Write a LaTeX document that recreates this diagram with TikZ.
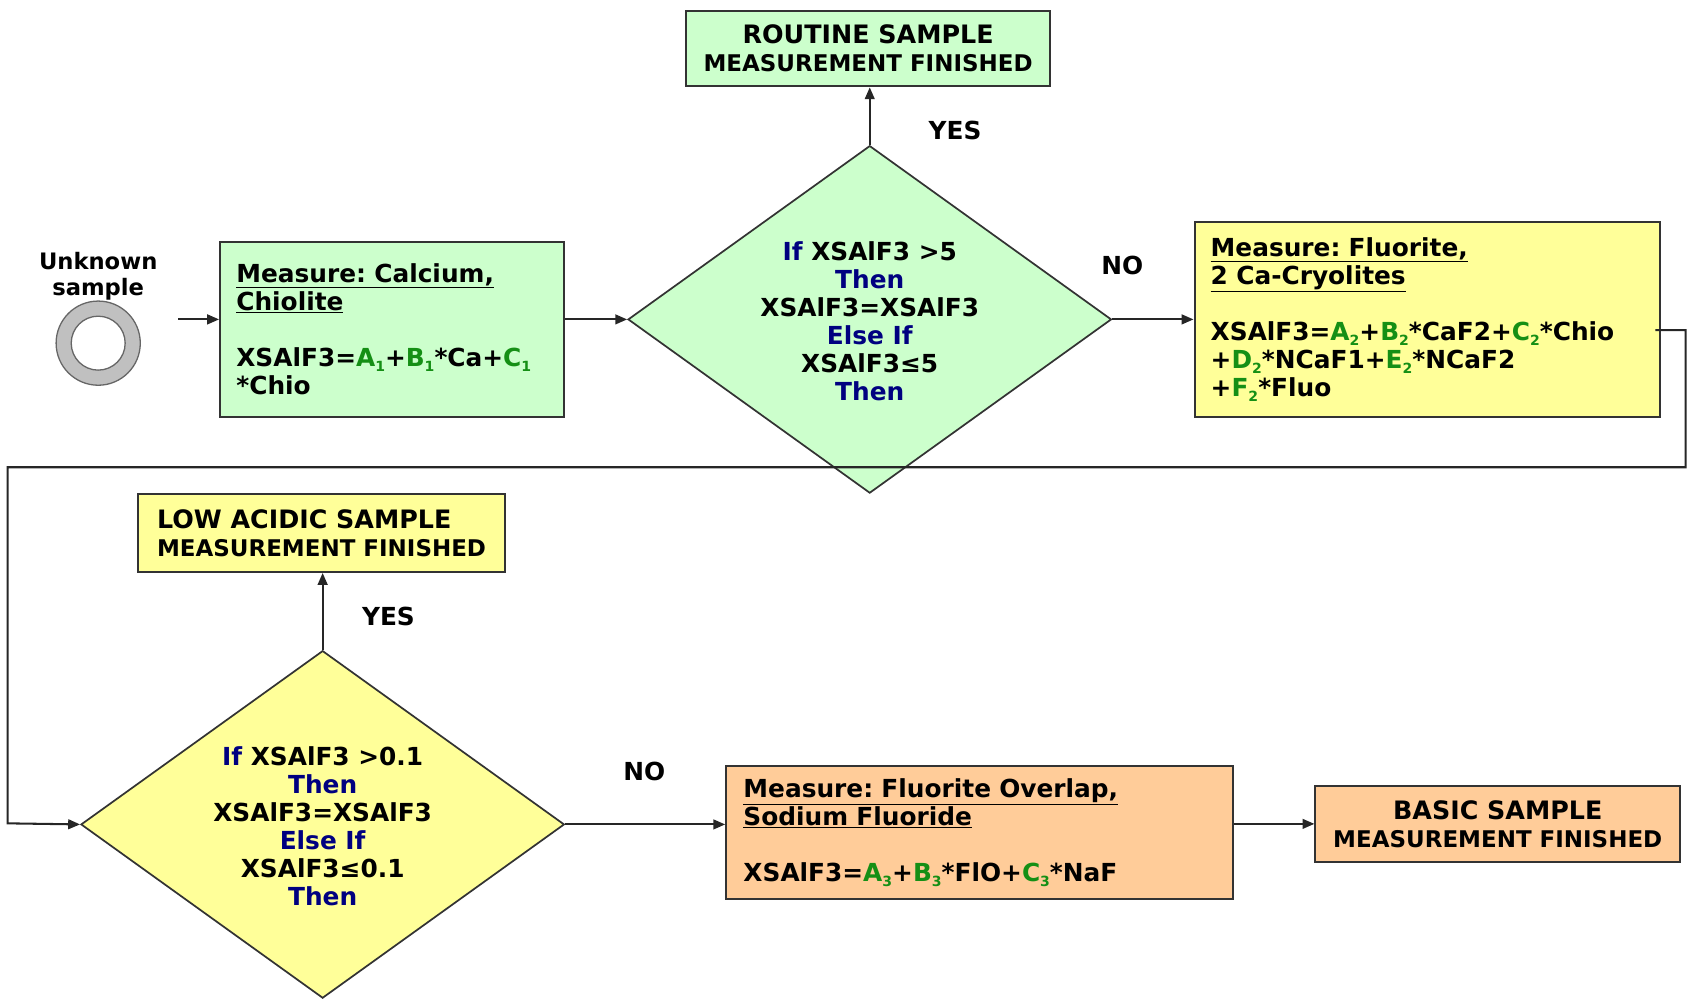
\documentclass[tikz,border=0pt]{standalone}
\usepackage{fontspec}
\setmainfont{DejaVu Sans}
\usetikzlibrary{shapes.geometric,arrows.meta}
\definecolor{gfill}{HTML}{CCFFCC}
\definecolor{yfill}{HTML}{FFFF99}
\definecolor{ofill}{HTML}{FFCC99}
\definecolor{edgec}{HTML}{333333}
\definecolor{cgreen}{HTML}{158F15}
\definecolor{cnavy}{HTML}{000080}
\definecolor{ringc}{HTML}{C0C0C0}
\newcommand\coef[2]{\textcolor{cgreen}{#1\raisebox{-0.35ex}{\fontsize{13}{13}\selectfont #2}}}
\newcommand\kw[1]{\textcolor{cnavy}{#1}}
\frenchspacing
\begin{document}
\begin{tikzpicture}[x=1pt,y=-1pt,
  font=\bfseries\fontsize{23}{26}\selectfont,
  procbox/.style={draw=edgec, line width=1.9pt, rectangle, inner xsep=15pt, inner ysep=0pt, align=left},
  endbox/.style={draw=edgec, line width=1.9pt, rectangle, inner sep=0pt},
  decide/.style={draw=edgec, line width=1.6pt, diamond, inner sep=0pt, minimum width=448pt, minimum height=322pt},
  dtext/.style={align=center, inner sep=0pt},
  conn/.style={draw=black!85, line width=1.9pt},
  arr/.style={conn, -{Triangle[length=11pt,width=9pt]}},
  lbl/.style={inner sep=0pt}]
\useasboundingbox (0,0) rectangle (1568,925);

% start
\node[align=center, inner sep=0pt, font=\bfseries\fontsize{21}{25}\selectfont] (unkl) at (91,256) {Unknown\\sample};
\node[circle, draw=black!60, fill=ringc, line width=1.2pt, minimum size=78pt, inner sep=0pt] (unk) at (91,318) {};
\node[circle, draw=black!60, fill=white, line width=1.2pt, minimum size=50pt, inner sep=0pt] (unkin) at (unk.center) {};
\coordinate (s0) at (165,296);

% box 1
\node[procbox, fill=gfill, minimum width=319pt, minimum height=162pt, text width=289pt] (b1) at (363.5,305)
 {\underline{Measure: Calcium,}\\ \underline{Chiolite}\\[26pt] XSAlF3=\coef{A}{1}+\coef{B}{1}*Ca+\coef{C}{1}\\ {*}Chio};

% decision 1
\node[decide, fill=gfill] (d1) at (806,296) {};
\node[dtext] (d1t) at (806,298) {\kw{If} XSAlF3 >5\\ \kw{Then}\\ XSAlF3=XSAlF3\\ \kw{Else If}\\ XSAlF3≤5\\ \kw{Then}};

% routine end
\node[endbox, fill=gfill, minimum width=337pt, minimum height=70pt, align=center] (r1) at (804.5,45)
 {{\fontsize{23.5}{25}\selectfont ROUTINE SAMPLE}\\ {\fontsize{21.3}{25}\selectfont MEASUREMENT FINISHED}};

% box 2
\node[procbox, fill=yfill, minimum width=431pt, minimum height=180pt, text width=401pt] (b2) at (1322.5,296)
 {\underline{Measure: Fluorite,}\\ \underline{2 Ca-Cryolites}\\[26pt] XSAlF3=\coef{A}{2}+\coef{B}{2}*CaF2+\coef{C}{2}*Chio\\ +\coef{D}{2}*NCaF1+\coef{E}{2}*NCaF2\\ +\coef{F}{2}*Fluo};

% decision 2
\node[decide, fill=yfill] (d2) at (299,764) {};
\node[dtext] (d2t) at (299,766) {\kw{If} XSAlF3 >0.1\\ \kw{Then}\\ XSAlF3=XSAlF3\\ \kw{Else If}\\ XSAlF3≤0.1\\ \kw{Then}};

% low acidic end
\node[endbox, fill=yfill, minimum width=340pt, minimum height=72pt, align=left] (la) at (298,494)
 {{\fontsize{23.5}{25}\selectfont LOW ACIDIC SAMPLE}\\ {\fontsize{21.3}{25}\selectfont MEASUREMENT FINISHED}};

% orange box
\node[procbox, fill=ofill, minimum width=470pt, minimum height=123pt, text width=438pt, inner xsep=16pt] (ob) at (908,771.5)
 {\underline{Measure: Fluorite Overlap,}\\ \underline{Sodium Fluoride}\\[26pt] XSAlF3=\coef{A}{3}+\coef{B}{3}*FlO+\coef{C}{3}*NaF};

% basic end
\node[endbox, fill=ofill, minimum width=338pt, minimum height=71pt, align=center] (bb) at (1388,763.5)
 {{\fontsize{23.5}{25}\selectfont BASIC SAMPLE}\\ {\fontsize{21.3}{25}\selectfont MEASUREMENT FINISHED}};

% connectors
\draw[arr] (s0) -- (s0 -| b1.west);
\draw[arr] (b1.east |- d1.west) -- (d1.west);
\draw[arr] (d1.north) -- (d1.north |- r1.south);
\draw[arr] (d1.east) -- (b2.west |- d1.east);
\coordinate (fbA) at (1562,433);
\coordinate (fbB) at (7,763);
\draw[arr] ([xshift=-5pt,yshift=-10pt]b2.east) -| (fbA) -| (fbB) -- (d2.west);
\draw[arr] (d2.north) -- (la.south -| d2.north);
\draw[arr] (d2.east) -- (ob.west |- d2.east);
\draw[arr] (ob.east |- bb.west) -- (bb.west);

% labels
\node[lbl] (yes1) at (885,121) {YES};
\node[lbl] (no1) at (1040,246) {NO};
\node[lbl] (yes2) at (360,571) {YES};
\node[lbl] (no2) at (597,715) {NO};
\end{tikzpicture}
\end{document}
